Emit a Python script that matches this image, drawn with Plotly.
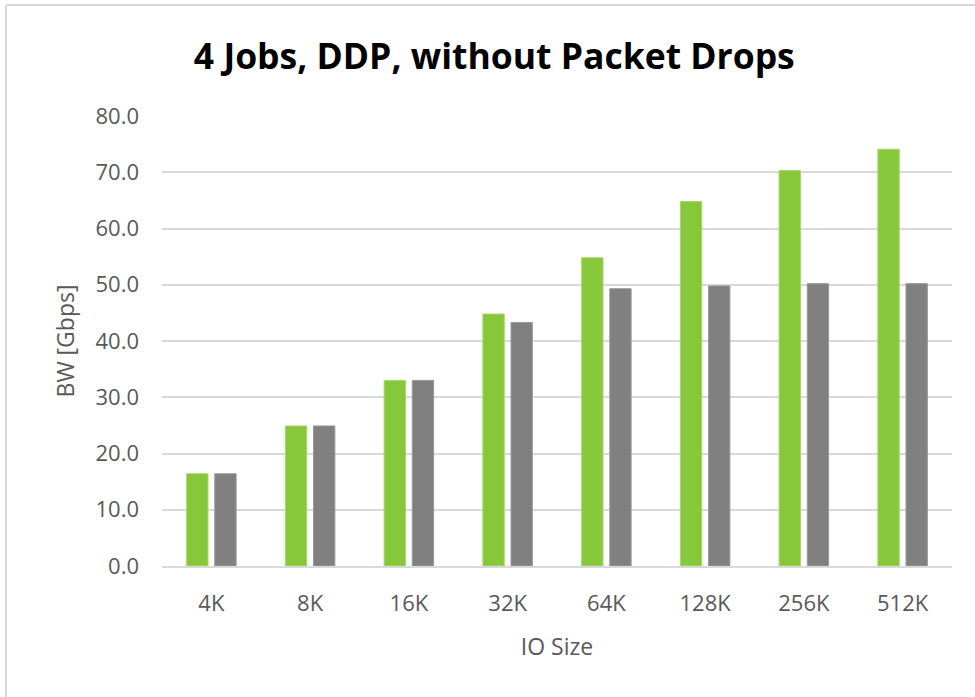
import plotly.graph_objects as go

# Bandwidth per IO size for two runs
io_sizes = ["4K", "8K", "16K", "32K", "64K", "128K", "256K", "512K"]
bw_green = [16.4, 24.9, 33.0, 44.8, 54.8, 64.8, 70.3, 74.1]
bw_gray = [16.4, 24.9, 33.0, 43.3, 49.3, 49.8, 50.2, 50.2]

y_ticks = [0, 10, 20, 30, 40, 50, 60, 70, 80]

FONT = "Open Sans"
TXT = "#595959"
GRID = "#d9d9d9"

fig = go.Figure()
fig.add_trace(go.Bar(
    x=io_sizes, y=bw_green, name="Series 1",
    marker=dict(color="#86C83A", line=dict(color="#a6d86c", width=1)),
))
fig.add_trace(go.Bar(
    x=io_sizes, y=bw_gray, name="Series 2",
    marker=dict(color="#808080", line=dict(color="#9a9a9a", width=1)),
))

W, H = 975, 697
L, R, T, B = 162, 23, 116, 131
pw, ph = W - L - R, H - T - B

def px_x(p):
    return (p - L) / pw

def px_y(p):
    return (H - B - p) / ph

# outer chart frame (left and top edges)
fig.add_shape(type="line", xref="paper", yref="paper",
              x0=px_x(6), x1=px_x(6), y0=px_y(H + 2), y1=px_y(5),
              line=dict(color=GRID, width=2), layer="below")
fig.add_shape(type="line", xref="paper", yref="paper",
              x0=px_x(6), x1=px_x(W + 2), y0=px_y(5), y1=px_y(5),
              line=dict(color=GRID, width=2), layer="below")

fig.update_layout(
    width=W, height=H,
    margin=dict(l=L, r=R, t=T, b=B, pad=0),
    paper_bgcolor="white", plot_bgcolor="white",
    showlegend=False,
    barmode="group", bargap=0.43, bargroupgap=0.24,
    title=dict(text="<b>4 Jobs, DDP, without Packet Drops</b>",
               font=dict(family=FONT, size=35.5, color="black"),
               x=0.507, xanchor="center", y=1 - 57 / H, yanchor="middle",
               xref="container", yref="container"),
    font=dict(family=FONT, color=TXT),
)
fig.update_xaxes(
    showgrid=False, showline=True, linecolor=GRID, linewidth=2,
    ticks="", tickfont=dict(family=FONT, size=22, color=TXT),
    ticklabelstandoff=17,
    title=dict(text="IO Size", font=dict(family=FONT, size=23, color=TXT), standoff=22),
)
fig.update_yaxes(
    range=[0, 80], tickvals=y_ticks, tickformat=".1f",
    showgrid=True, gridcolor=GRID, gridwidth=2,
    zeroline=False, showline=False, ticks="",
    tickfont=dict(family=FONT, size=22, color=TXT),
    ticklabelstandoff=22,
    title=dict(text="BW [Gbps]", font=dict(family=FONT, size=23, color=TXT), standoff=14),
)

fig.write_html("out.html")
